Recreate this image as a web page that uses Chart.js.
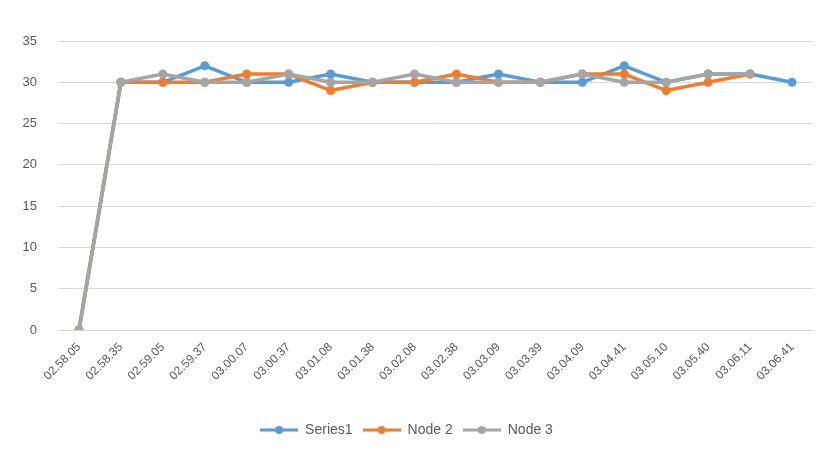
<!doctype html>
<html lang="en">
  <head>
    <meta charset="utf-8" />
    <title>Series1 / Node 2 / Node 3</title>
    <style>
      html,
      body {
        margin: 0;
        padding: 0;
        background: #fff;
        overflow: hidden;
      }
      #chartBox {
        position: relative;
        width: 822px;
        height: 453px;
      }
    </style>
    <script src="https://cdn.jsdelivr.net/npm/chart.js@4/dist/chart.umd.min.js"></script>
  </head>
  <body>
    <div id="chartBox"><canvas id="lineChart"></canvas></div>
    <script>
      const labels = [
        "02.58.05", "02.58.35", "02.59.05", "02.59.37", "03.00.07", "03.00.37",
        "03.01.08", "03.01.38", "03.02.08", "03.02.38", "03.03.09", "03.03.39",
        "03.04.09", "03.04.41", "03.05.10", "03.05.40", "03.06.11", "03.06.41"
      ];
      const series1 = [0, 30, 30, 32, 30, 30, 31, 30, 30, 30, 31, 30, 30, 32, 30, 31, 31, 30];
      const node2 = [0, 30, 30, 30, 31, 31, 29, 30, 30, 31, 30, 30, 31, 31, 29, 30, 31, null];
      const node3 = [0, 30, 31, 30, 30, 31, 30, 30, 31, 30, 30, 30, 31, 30, 30, 31, 31, null];
      const yTicks = [0, 5, 10, 15, 20, 25, 30, 35];

      const textColor = "#595959";
      const gridColor = "#d9d9d9";
      const fontFamily = "'Liberation Sans', Arial, sans-serif";

      // legend marker: short line with a dot in the middle, like Excel
      function legendMarker(color) {
        const c = document.createElement("canvas");
        c.width = 38;
        c.height = 10;
        const ctx = c.getContext("2d");
        ctx.strokeStyle = color;
        ctx.lineWidth = 3;
        ctx.beginPath();
        ctx.moveTo(0, 5);
        ctx.lineTo(38, 5);
        ctx.stroke();
        ctx.fillStyle = color;
        ctx.beginPath();
        ctx.arc(19, 5, 4, 0, Math.PI * 2);
        ctx.fill();
        return c;
      }

      function makeSet(label, data, color, order) {
        return {
          label,
          data,
          order,
          borderColor: color,
          backgroundColor: color,
          borderWidth: 3.5,
          pointRadius: 4.5,
          pointBackgroundColor: color,
          pointBorderWidth: 0,
          tension: 0,
          spanGaps: false
        };
      }

      const datasets = [
        makeSet("Series1", series1, "#5b9bd5", 3),
        makeSet("Node 2", node2, "#ed7d31", 2),
        makeSet("Node 3", node3, "#a5a5a5", 1)
      ];

      new Chart(document.getElementById("lineChart"), {
        type: "line",
        data: { labels, datasets },
        options: {
          responsive: true,
          maintainAspectRatio: false,
          animation: false,
          layout: { padding: { top: 41, right: 9, bottom: 6, left: 0 } },
          scales: {
            x: {
              offset: true,
              grid: { display: false },
              border: { color: gridColor },
              ticks: {
                color: textColor,
                font: { family: fontFamily, size: 12 },
                maxRotation: 45,
                minRotation: 45,
                autoSkip: false,
                padding: 2
              },
              afterFit: (scale) => {
                scale.height = 83;
              }
            },
            y: {
              min: 0,
              max: 35,
              afterBuildTicks: (scale) => {
                scale.ticks = yTicks.map((v) => ({ value: v }));
              },
              grid: { color: gridColor, drawTicks: false },
              border: { display: false },
              ticks: {
                color: textColor,
                font: { family: fontFamily, size: 13 },
                padding: 21
              },
              afterFit: (scale) => {
                scale.width = 58;
              }
            }
          },
          plugins: {
            title: { display: false },
            tooltip: { enabled: false },
            legend: {
              position: "bottom",
              labels: {
                color: textColor,
                font: { family: fontFamily, size: 14 },
                usePointStyle: true,
                pointStyleWidth: 38,
                padding: 10,
                generateLabels: (chart) =>
                  chart.data.datasets.map((ds, i) => ({
                    text: ds.label,
                    fontColor: textColor,
                    pointStyle: legendMarker(ds.borderColor),
                    strokeStyle: ds.borderColor,
                    fillStyle: ds.borderColor,
                    lineWidth: 0,
                    hidden: false,
                    datasetIndex: i
                  }))
              }
            }
          }
        }
      });
    </script>
  </body>
</html>
